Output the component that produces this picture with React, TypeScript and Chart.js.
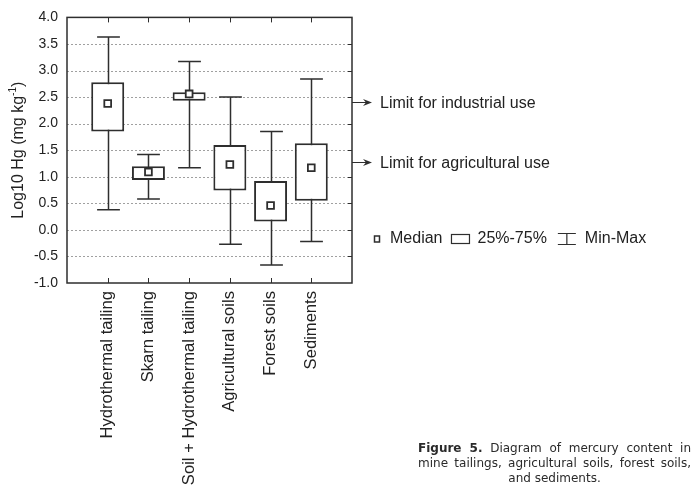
import React, { useEffect, useRef } from 'react';
import { Chart, registerables } from 'chart.js';

Chart.register(...registerables);

const categories = [
  'Hydrothermal tailing',
  'Skarn tailing',
  'Soil + Hydrothermal tailing',
  'Agricultural soils',
  'Forest soils',
  'Sediments',
];
const minValues = [0.38, 0.58, 1.17, -0.27, -0.66, -0.22];
const q1Values = [1.85, 0.94, 2.43, 0.74, 0.16, 0.55];
const medianValues = [2.38, 1.09, 2.56, 1.23, 0.46, 1.17];
const q3Values = [2.78, 1.2, 2.59, 1.6, 0.92, 1.63];
const maxValues = [3.63, 1.42, 3.17, 2.5, 1.85, 2.84];

const limitLabels = ['Limit for industrial use', 'Limit for agricultural use'];
const limitValues = [2.41, 1.27];

const legendLabels = ['Median', '25%-75%', 'Min-Max'];
const yAxisTitle = 'Log10 Hg (mg kg';
const yAxisTitleSup = '-1';
const yAxisTitleEnd = ')';

const captionBold = 'Figure 5.';
const captionLines = [
  ' Diagram of mercury content in',
  'mine tailings, agricultural soils, forest soils,',
  'and sediments.',
];

const FONT = '"Liberation Sans", Arial, Helvetica, sans-serif';
const INK = '#2e2e2e';
const TEXT = '#222222';

export default function App() {
  const ref = useRef<HTMLCanvasElement>(null);

  useEffect(() => {
    const canvas = ref.current;
    if (!canvas) return;
    const xs = categories.map((_, i) => i + 1);

    const extras = {
      id: 'boxExtras',
      beforeDatasetsDraw(chart: any) {
        const { ctx, chartArea: a, scales } = chart;
        const x = scales.x;
        const y = scales.y;
        ctx.save();
        // dotted grid
        ctx.strokeStyle = '#a0a0a0';
        ctx.lineWidth = 1;
        ctx.setLineDash([2, 2]);
        y.ticks.forEach((t: any) => {
          if (t.value <= y.min || t.value >= y.max) return;
          const py = Math.round(y.getPixelForValue(t.value)) + 0.5;
          ctx.beginPath();
          ctx.moveTo(a.left, py);
          ctx.lineTo(a.right, py);
          ctx.stroke();
        });
        ctx.setLineDash([]);
        // whiskers
        const step = x.getPixelForValue(2) - x.getPixelForValue(1);
        const half = (step * 0.56) / 2;
        ctx.strokeStyle = INK;
        ctx.lineWidth = 1.5;
        xs.forEach((v, i) => {
          const px = Math.round(x.getPixelForValue(v)) + 0.5;
          const pMin = y.getPixelForValue(minValues[i]);
          const pMax = y.getPixelForValue(maxValues[i]);
          ctx.beginPath();
          ctx.moveTo(px, pMin);
          ctx.lineTo(px, pMax);
          ctx.moveTo(px - half, pMin);
          ctx.lineTo(px + half, pMin);
          ctx.moveTo(px - half, pMax);
          ctx.lineTo(px + half, pMax);
          ctx.stroke();
        });
        ctx.restore();
      },
      afterDatasetsDraw(chart: any) {
        const { ctx, chartArea: a, scales } = chart;
        const x = scales.x;
        const y = scales.y;
        ctx.save();
        ctx.strokeStyle = INK;
        ctx.lineWidth = 1.5;
        ctx.strokeRect(a.left, a.top, a.right - a.left, a.bottom - a.top);
        ctx.lineWidth = 1;
        // inner ticks on right side
        y.ticks.forEach((t: any) => {
          if (t.value <= y.min || t.value >= y.max) return;
          const py = Math.round(y.getPixelForValue(t.value)) + 0.5;
          ctx.beginPath();
          ctx.moveTo(a.right - 4, py);
          ctx.lineTo(a.right, py);
          ctx.stroke();
        });
        // inner ticks top / bottom at categories
        xs.forEach((v) => {
          const px = Math.round(x.getPixelForValue(v)) + 0.5;
          ctx.beginPath();
          ctx.moveTo(px, a.top);
          ctx.lineTo(px, a.top + 5);
          ctx.moveTo(px, a.bottom);
          ctx.lineTo(px, a.bottom - 5);
          ctx.stroke();
        });
        ctx.restore();
      },
      afterDraw(chart: any) {
        const { ctx, chartArea: a, scales } = chart;
        const y = scales.y;
        ctx.save();
        // y axis title with superscript
        ctx.fillStyle = TEXT;
        ctx.textBaseline = 'middle';
        ctx.textAlign = 'left';
        const mainFont = `16px ${FONT}`;
        const supFont = `10px ${FONT}`;
        ctx.font = mainFont;
        const w1 = ctx.measureText(yAxisTitle).width;
        const w3 = ctx.measureText(yAxisTitleEnd).width;
        ctx.font = supFont;
        const w2 = ctx.measureText(yAxisTitleSup).width;
        const total = w1 + w2 + w3;
        ctx.translate(19, (a.top + a.bottom) / 2);
        ctx.rotate(-Math.PI / 2);
        let cx = -total / 2;
        ctx.font = mainFont;
        ctx.fillText(yAxisTitle, cx, 0);
        cx += w1;
        ctx.font = supFont;
        ctx.fillText(yAxisTitleSup, cx, -6);
        cx += w2;
        ctx.font = mainFont;
        ctx.fillText(yAxisTitleEnd, cx, 0);
        ctx.setTransform(1, 0, 0, 1, 0, 0);

        // limit arrows
        ctx.strokeStyle = INK;
        ctx.fillStyle = INK;
        ctx.lineWidth = 1;
        limitValues.forEach((v, i) => {
          const py = Math.round(y.getPixelForValue(v)) + 0.5;
          const x0 = a.right;
          const tip = a.right + 20;
          ctx.beginPath();
          ctx.moveTo(x0, py);
          ctx.lineTo(tip - 4, py);
          ctx.stroke();
          ctx.beginPath();
          ctx.moveTo(tip, py);
          ctx.lineTo(tip - 9, py - 3.5);
          ctx.lineTo(tip - 6, py);
          ctx.lineTo(tip - 9, py + 3.5);
          ctx.closePath();
          ctx.fill();
          ctx.fillStyle = TEXT;
          ctx.font = `16px ${FONT}`;
          ctx.textBaseline = 'middle';
          ctx.fillText(limitLabels[i], a.right + 28, py + 1);
          ctx.fillStyle = INK;
        });

        // legend
        const ly = 239;
        let lx = a.right + 22;
        ctx.font = `16px ${FONT}`;
        ctx.textBaseline = 'middle';
        ctx.lineWidth = 1.5;
        ctx.strokeStyle = INK;
        // median symbol
        ctx.strokeRect(lx + 0.5, ly - 3, 5, 6);
        lx += 16;
        ctx.fillStyle = TEXT;
        ctx.fillText(legendLabels[0], lx, ly);
        lx += ctx.measureText(legendLabels[0]).width + 9;
        // box symbol
        ctx.lineWidth = 1.2;
        ctx.strokeRect(lx, ly - 4.5, 18, 9);
        lx += 26;
        ctx.fillText(legendLabels[1], lx, ly);
        lx += ctx.measureText(legendLabels[1]).width + 11;
        // min-max symbol
        ctx.beginPath();
        ctx.moveTo(lx, ly - 5.5);
        ctx.lineTo(lx + 18, ly - 5.5);
        ctx.moveTo(lx, ly + 5.5);
        ctx.lineTo(lx + 18, ly + 5.5);
        ctx.moveTo(lx + 9, ly - 5.5);
        ctx.lineTo(lx + 9, ly + 5.5);
        ctx.stroke();
        lx += 27;
        ctx.fillText(legendLabels[2], lx, ly);
        ctx.restore();
      },
    };

    const chart = new Chart(canvas, {
      type: 'bar',
      data: {
        datasets: [
          {
            type: 'scatter',
            data: xs.map((v, i) => ({ x: v, y: medianValues[i] })),
            pointStyle: 'rect',
            radius: 4.8,
            borderWidth: 1.8,
            borderColor: INK,
            backgroundColor: '#ffffff',
            order: 1,
          } as any,
          {
            type: 'bar',
            data: xs.map((v, i) => ({ x: v, y: [q1Values[i], q3Values[i]] })),
            backgroundColor: '#ffffff',
            borderColor: INK,
            borderWidth: 2,
            borderSkipped: false,
            categoryPercentage: 1,
            barPercentage: 0.81,
            order: 2,
          } as any,
        ],
      },
      options: {
        animation: false,
        responsive: false,
        maintainAspectRatio: false,
        layout: { padding: { left: 0, top: 13, right: 342, bottom: 0 } },
        plugins: {
          legend: { display: false },
          tooltip: { enabled: false },
        },
        scales: {
          x: {
            type: 'linear',
            min: 0,
            max: 7,
            offset: false,
            grid: { display: false },
            border: { display: false },
            afterFit: (s: any) => {
              s.height = 210;
            },
            afterBuildTicks: (s: any) => {
              s.ticks = [0, 1, 2, 3, 4, 5, 6, 7].map((v) => ({ value: v }));
            },
            ticks: {
              autoSkip: false,
              minRotation: 90,
              maxRotation: 90,
              padding: 0,
              color: TEXT,
              font: { family: FONT, size: 16.6 },
              callback: (v: any) => {
                const n = Number(v);
                return n >= 1 && n <= categories.length ? categories[n - 1] : '';
              },
            },
          },
          y: {
            type: 'linear',
            min: -1,
            max: 4,
            grid: { display: false, drawTicks: false },
            border: { display: false },
            afterFit: (s: any) => {
              s.width = 67;
            },
            ticks: {
              stepSize: 0.5,
              padding: 9,
              color: TEXT,
              font: { family: FONT, size: 14 },
              callback: (v: any) => Number(v).toFixed(1),
            },
          },
        },
      } as any,
      plugins: [extras],
    });
    return () => chart.destroy();
  }, []);

  return (
    <div style={{ position: 'absolute', left: 0, top: 0, width: 694, height: 493, background: '#fff' }}>
      <canvas ref={ref} width={694} height={493} style={{ position: 'absolute', left: 0, top: 0 }} />
      <div
        style={{
          position: 'absolute',
          left: 418,
          top: 441,
          width: 273,
          fontFamily: '"DejaVu Sans", Verdana, sans-serif',
          fontSize: 12,
          lineHeight: '15px',
          color: '#2a2a2a',
        }}
      >
        <div style={{ textAlign: 'justify', textAlignLast: 'justify', whiteSpace: 'nowrap' }}>
          <b>{captionBold}</b>
          {captionLines[0]}
        </div>
        <div style={{ textAlign: 'justify', textAlignLast: 'justify', whiteSpace: 'nowrap' }}>{captionLines[1]}</div>
        <div style={{ textAlign: 'center' }}>{captionLines[2]}</div>
      </div>
    </div>
  );
}
